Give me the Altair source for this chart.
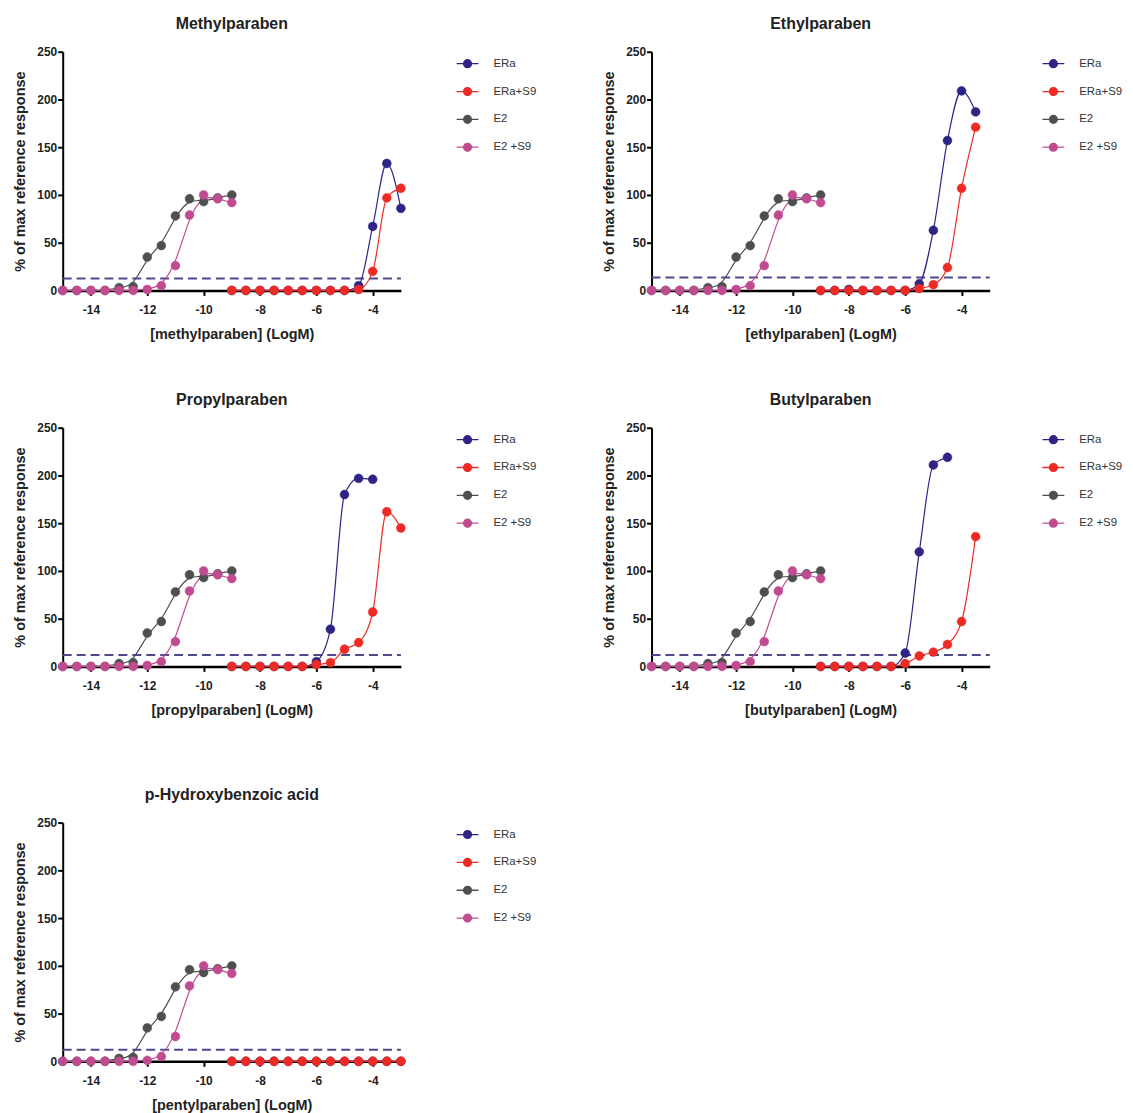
import altair as alt
import pandas as pd

# ---- data ----
X_REF = [-15, -14.5, -14, -13.5, -13, -12.5, -12, -11.5, -11, -10.5, -10, -9.5, -9]
E2 = [0, 0, 0, 0, 3, 4, 35, 47, 78, 96, 93, 97, 100]
E2_S9 = [0, 0, 0, 0, 0, 0, 1, 5, 26, 79, 100, 96, 92]

X_PAR = [-9, -8.5, -8, -7.5, -7, -6.5, -6, -5.5, -5, -4.5, -4, -3.5, -3]

TITLES = ["Methylparaben", "Ethylparaben", "Propylparaben", "Butylparaben",
          "p-Hydroxybenzoic acid"]
XLABELS = ["[methylparaben] (LogM)", "[ethylparaben] (LogM)",
           "[propylparaben] (LogM)", "[butylparaben] (LogM)",
           "[pentylparaben] (LogM)"]

ERA = [
    [0, 0, 0, 0, 0, 0, 0, 0, 0, 5, 67, 133, 86],
    [0, 0, 1, 0, 0, 0, 0, 7, 63, 157, 209, 187],
    [0, 0, 0, 0, 0, 0, 5, 39, 180, 197, 196],
    [0, 0, 0, 0, 0, 0, 14, 120, 211, 219],
    [0, 0, 0, 0, 0, 0, 0, 0, 0, 0, 0, 0, 0],
]
ERA_S9 = [
    [0, 0, 0, 0, 0, 0, 0, 0, 0, 1, 20, 97, 107],
    [0, 0, 0, 0, 0, 0, 0, 2, 6, 24, 107, 171],
    [0, 0, 0, 0, 0, 0, 2, 4, 18, 25, 57, 162, 145],
    [0, 0, 0, 0, 0, 0, 3, 11, 15, 23, 47, 136],
    [0, 0, 0, 0, 0, 0, 0, 0, 0, 0, 0, 0, 0],
]
THRESHOLD = [12.5, 13.5, 12, 12, 12]

SERIES = ["ERa", "ERa+S9", "E2", "E2 +S9"]
COLORS = ["#2d2486", "#ee2a24", "#4f4f4f", "#c14b91"]
DASH_COLOR = "#4a4a8c"

FONT = "Liberation Sans"
W, H = 340, 240

SYMBOL = ("M-1,0L1,0M-0.36,0A0.36,0.36,0,1,1,0.36,0"
          "A0.36,0.36,0,1,1,-0.36,0Z")
LABEL_EXPR = "datum.value < 0 ? '-' + abs(datum.value) : '' + datum.value"


def panel(i):
    rows = []
    for s, xs, ys in [("ERa", X_PAR, ERA[i]), ("ERa+S9", X_PAR, ERA_S9[i]),
                      ("E2", X_REF, E2), ("E2 +S9", X_REF, E2_S9)]:
        for x, y in zip(xs, ys):
            rows.append({"x": x, "y": y, "series": s})
    df = pd.DataFrame(rows)
    df["order"] = df["series"].map({s: k for k, s in enumerate(SERIES)})
    df["col"] = df["series"].map(dict(zip(SERIES, COLORS)))

    sc = alt.Scale(domain=SERIES, range=COLORS)
    xenc = alt.X("x:Q", scale=alt.Scale(domain=[-15, -3], nice=False, zero=False),
                 axis=alt.Axis(values=[-14, -12, -10, -8, -6, -4], title=XLABELS[i],
                               labelExpr=LABEL_EXPR, grid=False, domainColor="black",
                               domainWidth=2.5, tickColor="black", tickWidth=2,
                               tickSize=5, labelFont=FONT, labelFontSize=12,
                               labelFontWeight="bold", labelColor="#222",
                               labelPadding=9, titleFont=FONT, titleFontSize=14.5,
                               titleFontWeight="bold", titleColor="#222",
                               titlePadding=12))
    yenc = alt.Y("y:Q", scale=alt.Scale(domain=[0, 250], nice=False),
                 axis=alt.Axis(values=[0, 50, 100, 150, 200, 250],
                               title="% of max reference response", grid=False,
                               domainColor="black", domainWidth=2, tickColor="black",
                               tickWidth=2, tickSize=5, labelFont=FONT,
                               labelFontSize=12, labelFontWeight="bold",
                               labelColor="#222", labelPadding=1, titleFont=FONT,
                               titleFontSize=14.5, titleFontWeight="bold",
                               titleColor="#222", titlePadding=9))

    base = alt.Chart(df)
    rule = alt.Chart(pd.DataFrame({"y": [THRESHOLD[i]], "x": [-15], "x2": [-3]})).mark_rule(
        strokeDash=[9, 5], color=DASH_COLOR, strokeWidth=2
    ).encode(x="x:Q", x2="x2:Q", y="y:Q")

    era_lines = base.transform_filter(
        alt.FieldOneOfPredicate(field="series", oneOf=["ERa", "ERa+S9"])
    ).mark_line(interpolate="monotone", strokeWidth=1.2).encode(
        x=xenc, y=yenc, color=alt.Color("col:N", scale=None),
        detail="series:N")
    ref_lines = base.transform_filter(
        alt.FieldOneOfPredicate(field="series", oneOf=["E2", "E2 +S9"])
    ).mark_line(interpolate="basis", strokeWidth=1.2).encode(
        x=xenc, y=yenc, color=alt.Color("col:N", scale=None),
        detail="series:N")

    leg = alt.Legend(title=None, orient="right", offset=52, padding=0,
                     symbolType=SYMBOL, symbolSize=484, symbolStrokeWidth=1.3,
                     labelFont=FONT, labelFontSize=11.5, labelColor="#333",
                     labelOffset=14, rowPadding=9)
    points = base.mark_point(filled=True, size=80, opacity=1, strokeWidth=0.5).encode(
        x=xenc, y=yenc,
        fill=alt.Fill("series:N", scale=sc, legend=leg),
        stroke=alt.Stroke("series:N", scale=sc, legend=leg),
        order="order:Q")

    return alt.layer(rule, era_lines, ref_lines, points).properties(
        width=W, height=H,
        title=alt.TitleParams(TITLES[i], font=FONT, fontSize=16, fontWeight="bold",
                              color="#222", anchor="middle", frame="group", offset=14))


def indep(c):
    return c.resolve_scale(fill="independent", stroke="independent").resolve_legend(
        fill="independent", stroke="independent")


row1 = indep(alt.hconcat(panel(0), panel(1), spacing=64))
row2 = indep(alt.hconcat(panel(2), panel(3), spacing=64))
row3 = indep(alt.hconcat(panel(4)))

top = indep(alt.vconcat(row1, row2, spacing=51))
chart = indep(alt.vconcat(top, row3, spacing=70)).configure_view(
    stroke=None).properties(padding={"left": 4, "top": 5, "right": 2, "bottom": 0})

chart.save("out.html", embed_options={"renderer": "svg", "actions": False})
